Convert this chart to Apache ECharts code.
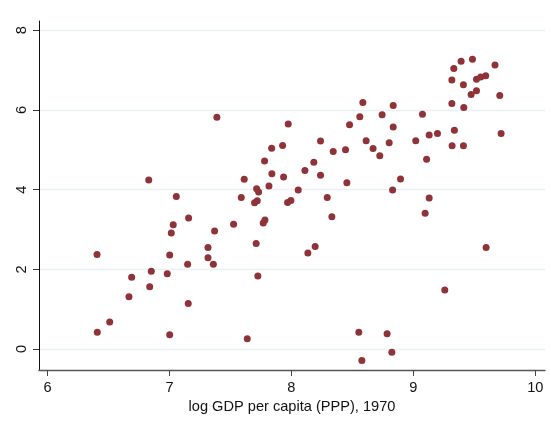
<!DOCTYPE html>
<html><head><meta charset="utf-8">
<script src="https://cdn.jsdelivr.net/npm/echarts@6/dist/echarts.min.js"></script>
<style>html,body{margin:0;padding:0;background:#fff}#c{width:551px;height:425px}</style>
</head><body><div id="c"></div>
<script>
const logGDP = [6.406,7.056,7.589,7.157,7.031,7.015,7.370,7.526,7.698,7.720,7.769,7.783,7.711,7.725,7.316,7.316,7.360,7.149,7.002,6.982,6.851,6.690,6.838,6.668,7.154,6.510,6.408,7.002,7.638,7.389,6.830,7.613,7.838,7.780,7.840,7.816,7.715,7.731,7.974,8.586,8.561,8.477,7.928,8.239,8.343,8.444,8.613,8.670,8.184,8.111,7.936,8.239,8.455,8.056,8.294,7.969,7.996,8.332,8.135,8.195,8.830,9.130,9.097,9.597,9.258,8.553,8.785,8.824,8.578,9.109,8.895,9.316,9.332,9.392,9.485,9.670,9.411,9.518,9.553,9.594,9.518,9.474,9.709,9.316,9.414,8.835,8.744,9.075,8.835,9.337,9.720,9.130,9.198,9.020,9.318,9.411,8.802,8.725];
const growthVals = [2.37,3.83,3.80,3.29,3.12,2.91,2.96,3.13,3.67,3.72,3.16,3.24,2.65,1.83,2.55,2.29,2.13,2.13,2.36,1.89,1.95,1.80,1.56,1.31,1.14,0.68,0.42,0.36,0.26,5.82,4.24,4.26,5.04,4.72,4.40,4.09,4.02,3.94,5.65,6.19,5.83,5.63,5.11,5.22,4.96,5.00,5.23,5.03,4.69,4.48,4.32,4.36,4.17,3.99,3.80,3.68,3.73,3.32,2.41,2.57,3.99,3.79,3.41,2.55,1.48,0.42,0.38,-0.08,-0.29,4.76,4.27,6.75,7.04,7.22,7.27,7.13,6.63,6.77,6.83,6.86,6.48,6.39,6.36,6.16,6.06,6.11,5.88,5.89,5.57,5.49,5.41,5.37,5.41,5.23,5.10,5.10,5.18,4.85];
const xTicks = [6,7,8,9,10];
const yTicks = [0,2,4,6,8];
const xTitle = 'log GDP per capita (PPP), 1970';

const pts = logGDP.map((x,i)=>[x, growthVals[i]]);
const chart = echarts.init(document.getElementById('c'), null, {renderer:'canvas'});
const font = 'Liberation Sans, Arial, sans-serif';
chart.setOption({
  animation:false,
  backgroundColor:'#fff',
  grid:{left:39,right:6,top:21,bottom:55,containLabel:false},
  xAxis:{
    type:'value', min:5.93, max:10.08,
    name:xTitle, nameLocation:'middle', nameGap:24,
    nameTextStyle:{fontFamily:font,fontSize:14.6,color:'#111'},
    axisLine:{show:true,onZero:false,lineStyle:{color:'#555',width:1.3}},
    axisTick:{show:true,length:6,customValues:xTicks,lineStyle:{color:'#444'}},
    axisLabel:{customValues:xTicks,margin:10,fontFamily:font,fontSize:14.6,color:'#111'},
    splitLine:{show:false}
  },
  yAxis:{
    type:'value', min:-0.527, max:8.233,
    axisLine:{show:true,onZero:false,lineStyle:{color:'#111',width:1}},
    axisTick:{show:true,length:6,customValues:yTicks,lineStyle:{color:'#333'}},
    axisLabel:{customValues:yTicks,rotate:90,margin:10,fontFamily:font,fontSize:14.6,color:'#111'},
    splitLine:{show:true,lineStyle:{color:'#e8f0f2',width:1.3}}
  },
  series:[{
    type:'scatter', data:pts, symbol:'circle', symbolSize:7,
    itemStyle:{color:'#8f3339',opacity:1}
  }]
});
</script></body></html>
